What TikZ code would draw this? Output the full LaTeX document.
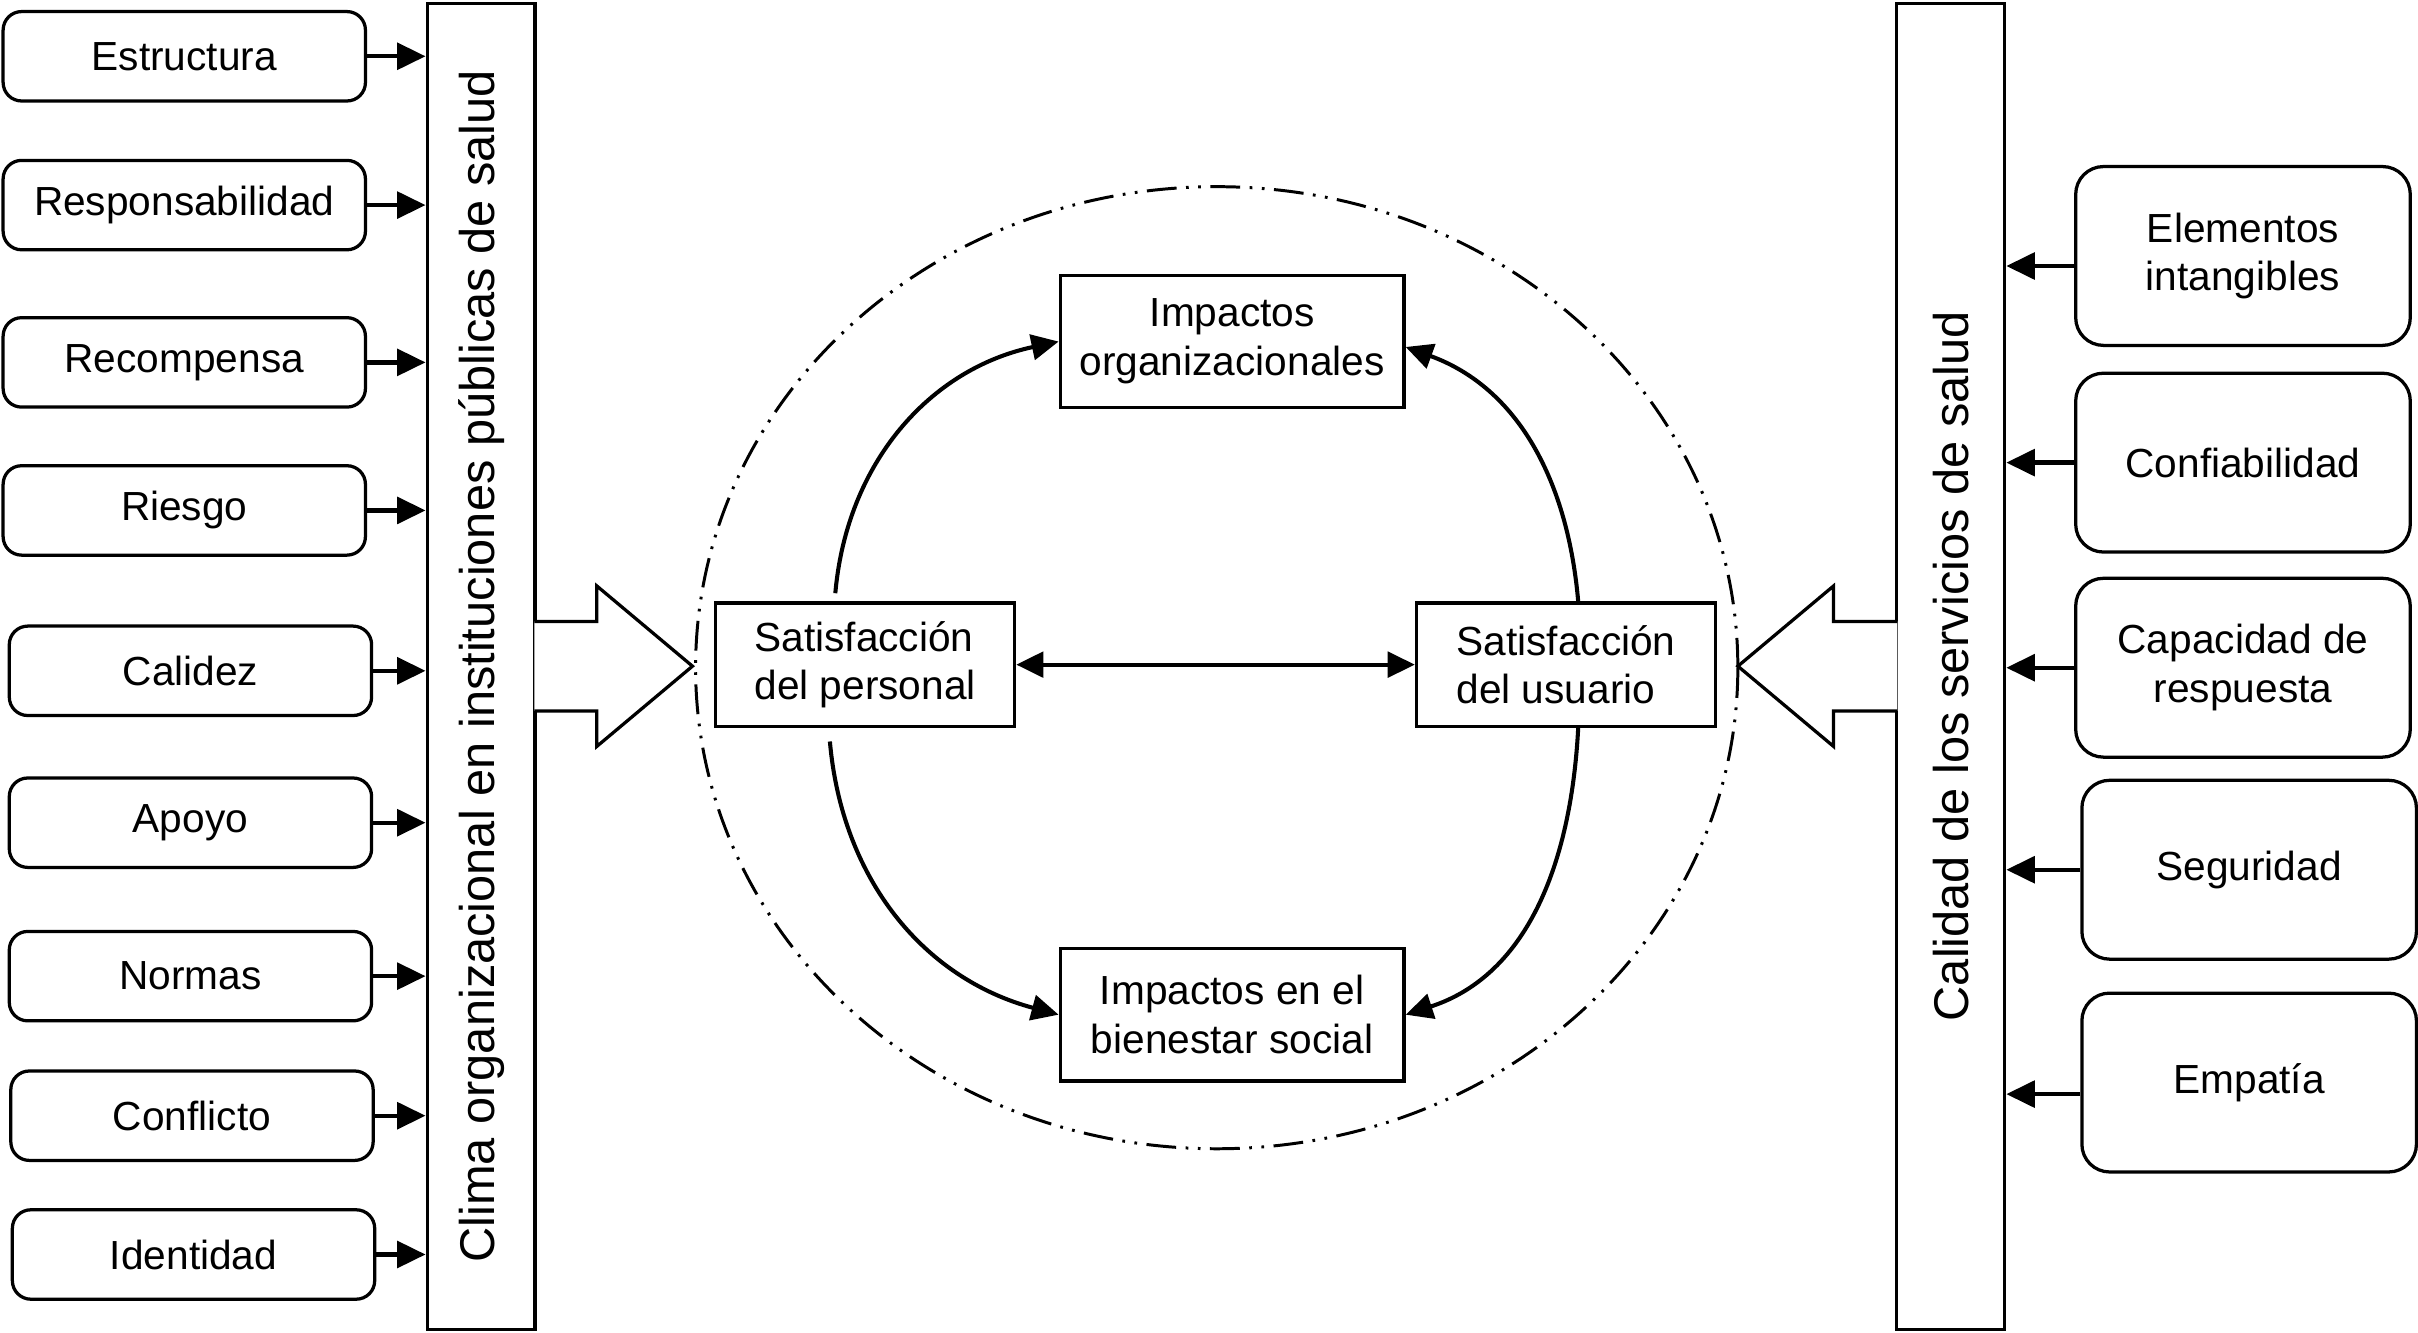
\documentclass[tikz,border=0pt]{standalone}
\usepackage{fontspec}
\setmainfont{Liberation Sans}
\usepackage{graphicx}
\usetikzlibrary{arrows.meta,calc}

\begin{document}
\begin{tikzpicture}[x=0.02cm, y=0.02cm,
        every node/.style={font=\fontsize{15}{18}\selectfont},
        factor/.style={draw=black, line width=1.2pt, rounded corners=0.24cm, minimum width=4.7cm, minimum height=1.16cm, inner sep=2pt},
        dimension/.style={draw=black, line width=1.2pt, rounded corners=0.36cm, minimum width=4.34cm, minimum height=2.32cm, align=center, inner sep=2pt},
        column/.style={draw=black, line width=1.2pt, minimum width=1.4cm, minimum height=17.2cm, inner sep=0pt, font=\fontsize{18}{21}\selectfont},
        result/.style={draw=black, line width=1.2pt, minimum width=4.46cm, minimum height=1.72cm, align=center, inner sep=2pt},
        satis/.style={draw=black, line width=1.2pt, minimum width=3.88cm, minimum height=1.6cm, align=left, inner sep=2pt},
        feed/.style={line width=1.6pt, -{Triangle[length=10.5pt,width=9.8pt]}},
        link/.style={line width=1.5pt, -{Triangle[length=10pt,width=9.4pt]}},
        both/.style={line width=1.5pt, {Triangle[length=10pt,width=9.4pt]}-{Triangle[length=10pt,width=9.4pt]}},
        bigarrow/.style={draw=black, line width=1.2pt, fill=white, line join=miter},
        boundary/.style={line width=1.1pt, dash pattern=on 11pt off 3.5pt on 1pt off 3.5pt on 1pt off 3.5pt}]
        \useasboundingbox (0,0) rectangle (1568,-864);

        \node[column] (clima) at (312,-432) {\rotatebox{90}{Clima organizacional en instituciones públicas de salud}};
        \node[column] (calidad) at (1265,-432) {\rotatebox{90}{Calidad de los servicios de salud}};

        \node[factor] (estructura) at (119.5,-36.5) {Estructura};
        \node[factor] (responsabilidad) at (119.5,-133) {Responsabilidad};
        \node[factor] (recompensa) at (119.5,-235) {Recompensa};
        \node[factor] (riesgo) at (119.5,-331) {Riesgo};
        \node[factor] (calidez) at (123.5,-435) {Calidez};
        \node[factor] (apoyo) at (123.5,-533.5) {Apoyo};
        \node[factor] (normas) at (123.5,-633) {Normas};
        \node[factor] (conflicto) at (124.5,-723.5) {Conflicto};
        \node[factor] (identidad) at (125.5,-813.5) {Identidad};

        \node[dimension] (elementos) at (1454.5,-166) {Elementos\\intangibles};
        \node[dimension] (confiabilidad) at (1454.5,-300) {Confiabilidad};
        \node[dimension] (capacidad) at (1454.5,-433) {Capacidad de\\respuesta};
        \node[dimension] (seguridad) at (1458.5,-564) {Seguridad};
        \node[dimension] (empatia) at (1458.5,-702) {Empatía};

        \node[result] (organizacional) at (799,-221.5) {Impactos\\organizacionales};
        \node[result] (bienestar) at (799,-658) {Impactos en el\\bienestar social};
        \node[satis] (personal) at (561,-431) {Satisfacción\\del personal};
        \node[satis] (usuario) at (1015.5,-431) {Satisfacción\\del usuario};

        \draw[feed] (estructura.east) -- (estructura.east -| clima.west);
        \draw[feed] (responsabilidad.east) -- (responsabilidad.east -| clima.west);
        \draw[feed] (recompensa.east) -- (recompensa.east -| clima.west);
        \draw[feed] (riesgo.east) -- (riesgo.east -| clima.west);
        \draw[feed] (calidez.east) -- (calidez.east -| clima.west);
        \draw[feed] (apoyo.east) -- (apoyo.east -| clima.west);
        \draw[feed] (normas.east) -- (normas.east -| clima.west);
        \draw[feed] (conflicto.east) -- (conflicto.east -| clima.west);
        \draw[feed] (identidad.east) -- (identidad.east -| clima.west);

        \coordinate (elementosout) at ($(elementos.west)+(0,-6.5)$);
        \coordinate (empatiaout) at ($(empatia.west)+(0,-7.5)$);
        \draw[feed] (elementosout) -- (elementosout -| calidad.east);
        \draw[feed] (confiabilidad.west) -- (confiabilidad.west -| calidad.east);
        \draw[feed] (capacidad.west) -- (capacidad.west -| calidad.east);
        \draw[feed] (seguridad.west) -- (seguridad.west -| calidad.east);
        \draw[feed] (empatiaout) -- (empatiaout -| calidad.east);

        % hollow arrows joined to the two columns
        \draw[bigarrow] (clima.east) ++(-1.5,29) -- ++(40.5,0) -- ++(0,23) -- ++(62,-52) -- ++(-62,-52) -- ++(0,23) -- ++(-40.5,0);
        \draw[bigarrow] (calidad.west) ++(1.5,29) -- ++(-41.5,0) -- ++(0,23) -- ++(-62,-52) -- ++(62,-52) -- ++(0,23) -- ++(41.5,0);

        \draw[boundary] (789,-433) ellipse [x radius=6.76cm, y radius=6.24cm];

        \draw[both] (personal.east) -- (usuario.west);
        \draw[link] ([xshift=-11pt,yshift=3pt]personal.north) to[out=85,in=192] (organizacional.west);
        \draw[link] ([xshift=4.5pt]usuario.north) to[out=95,in=-20] ([yshift=-2pt]organizacional.east);
        \draw[link] ([xshift=-13pt,yshift=-5pt]personal.south) to[out=-85,in=165] (bienestar.west);
        \draw[link] ([xshift=4.5pt]usuario.south) to[out=-93,in=18] (bienestar.east);
    \end{tikzpicture}
\end{document}
